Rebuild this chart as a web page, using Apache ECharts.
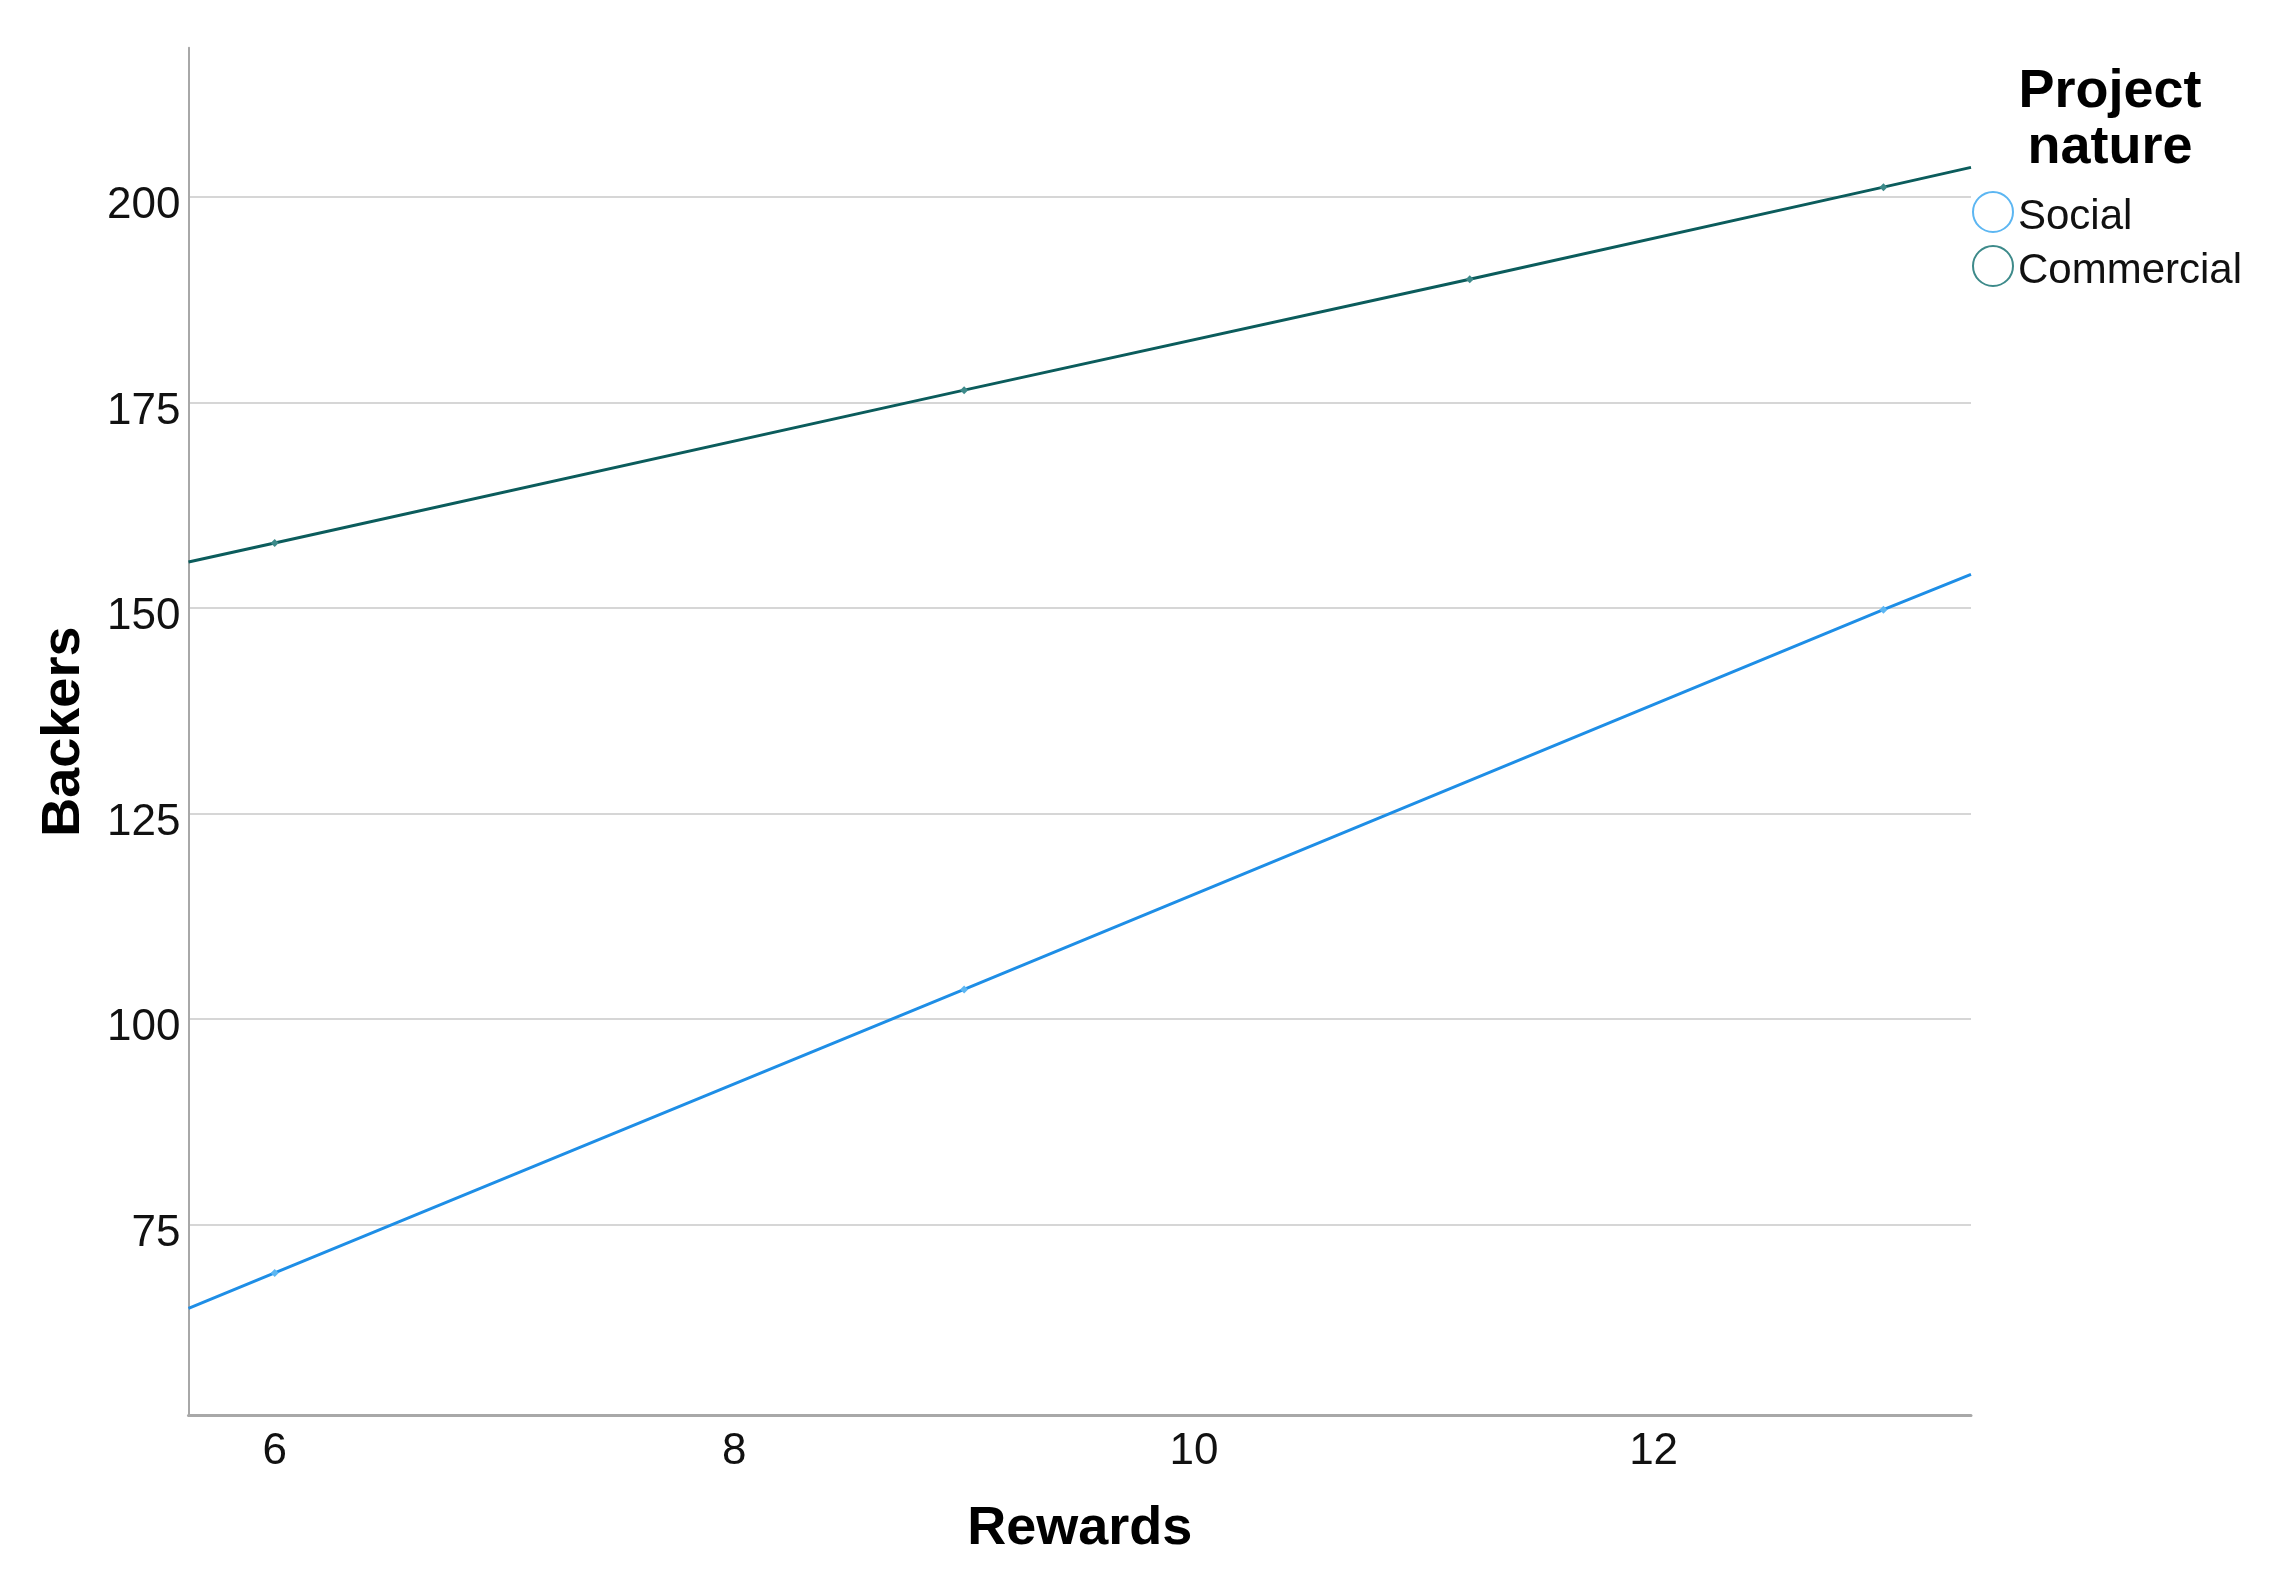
<!DOCTYPE html>
<html>
<head>
<meta charset="utf-8">
<title>Backers by rewards</title>
<script src="https://cdn.jsdelivr.net/npm/echarts@6/dist/echarts.min.js"></script>
<style>
  html, body { margin: 0; padding: 0; background: #fff; }
  #main { width: 2273px; height: 1587px; }
</style>
</head>
<body>
<div id="main"></div>
<script>
// values
const rewardTicks = [6, 8, 10, 12];
const backerTicks = [75, 100, 125, 150, 175, 200];

const socialX = [5.625, 6, 9, 13, 13.381];
const socialY = [64.8, 69.1, 103.6, 149.8, 154.1];

const commercialX = [5.625, 6, 9, 11.2, 13, 13.381];
const commercialY = [155.6, 157.9, 176.5, 190.0, 201.2, 203.6];

const font = "'Liberation Sans', Arial, sans-serif";

// first and last points are just the line ends at the plot edge, no marker
function toPoints(xs, ys) {
  return xs.map((x, i) => {
    const item = { value: [x, ys[i]] };
    if (i === 0 || i === xs.length - 1) item.symbol = "none";
    return item;
  });
}

const myChart = echarts.init(document.getElementById("main"));
myChart.setOption({
  animation: false,
  backgroundColor: "#fff",
  title: {
    text: "Project\nnature",
    left: 2110,
    top: 64,
    padding: 0,
    textAlign: "center",
    textStyle: {
      fontFamily: font,
      fontSize: 54,
      fontWeight: "bold",
      lineHeight: 56,
      color: "#000"
    }
  },
  legend: {
    orient: "vertical",
    left: 1972,
    top: 191,
    padding: 0,
    itemWidth: 40,
    itemHeight: 40,
    itemGap: 7,
    icon: "emptyCircle",
    formatter: "{t|{name}}",
    textStyle: {
      fontFamily: font,
      fontSize: 42,
      color: "#111",
      rich: {
        t: { fontFamily: font, fontSize: 42, color: "#111", padding: [10, 0, 0, 0] }
      }
    },
    data: [
      { name: "Social", itemStyle: { color: "#5cb6f2" } },
      { name: "Commercial", itemStyle: { color: "#3d8a8a" } }
    ]
  },
  grid: {
    left: 188.5,
    right: 302,
    top: 47.8,
    bottom: 171.5
  },
  xAxis: {
    type: "value",
    min: 5.625,
    max: 13.381,
    name: "Rewards",
    nameLocation: "middle",
    nameGap: 87,
    nameTextStyle: { fontFamily: font, fontSize: 54, fontWeight: "bold", color: "#000" },
    axisLine: { show: true, lineStyle: { color: "#a8a8a8", width: 3 } },
    axisTick: { show: false, customValues: rewardTicks },
    axisLabel: {
      customValues: rewardTicks,
      margin: 14,
      fontFamily: font,
      fontSize: 44,
      color: "#111"
    },
    splitLine: { show: false }
  },
  yAxis: {
    type: "value",
    min: 51.76,
    max: 218.15,
    name: "Backers",
    nameLocation: "middle",
    nameGap: 97,
    nameTextStyle: { fontFamily: font, fontSize: 54, fontWeight: "bold", color: "#000" },
    axisLine: { show: true, lineStyle: { color: "#a8a8a8", width: 2 } },
    axisTick: { show: false, customValues: backerTicks },
    axisLabel: {
      customValues: backerTicks,
      margin: 8,
      verticalAlign: "top",
      lineHeight: 18,
      fontFamily: font,
      fontSize: 44,
      color: "#111"
    },
    splitLine: { show: true, lineStyle: { color: "#d6d6d6", width: 2 } }
  },
  series: [
    {
      name: "Social",
      type: "line",
      data: toPoints(socialX, socialY),
      symbol: "diamond",
      symbolSize: 8,
      lineStyle: { color: "#1e8ee6", width: 3 },
      itemStyle: { color: "#5cb6f2" }
    },
    {
      name: "Commercial",
      type: "line",
      data: toPoints(commercialX, commercialY),
      symbol: "diamond",
      symbolSize: 8,
      lineStyle: { color: "#0b5c5c", width: 3 },
      itemStyle: { color: "#3d8a8a" }
    }
  ]
});

window.onresize = () => {
  myChart.resize();
};
</script>
</body>
</html>
